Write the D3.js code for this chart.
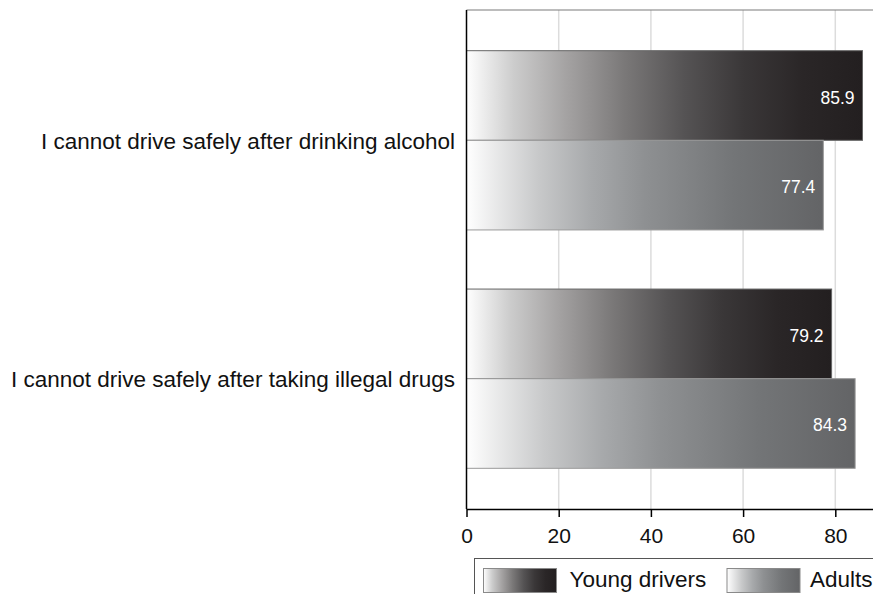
<!DOCTYPE html>
<html>
<head>
<meta charset="utf-8">
<script src="https://cdn.jsdelivr.net/npm/d3@7"></script>
<style>
  html, body { margin: 0; padding: 0; background: #fff; }
  svg { display: block; font-family: "Liberation Sans", Arial, sans-serif; }
</style>
</head>
<body>
<svg id="chart" width="873" height="594"></svg>
<script>
const categories = [
  "I cannot drive safely after drinking alcohol",
  "I cannot drive safely after taking illegal drugs"
];
const seriesNames = ["Young drivers", "Adults"];
const youngDrivers = [85.9, 79.2];
const adults = [77.4, 84.3];
const xTicks = [0, 20, 40, 60, 80];

const seriesValues = [youngDrivers, adults];
const data = categories.map((c, i) => ({
  category: c,
  values: seriesNames.map((s, j) => ({ series: s, value: seriesValues[j][i] }))
}));

const svg = d3.select("#chart");
const plotLeft = 466.5, plotTop = 10, plotBottom = 509;

const x = d3.scaleLinear().domain([0, 100]).range([plotLeft, plotLeft + 461]);
const y = d3.scaleBand().domain(categories).range([plotTop, plotBottom])
  .paddingInner(0.248).paddingOuter(0.1707);
const ySub = d3.scaleBand().domain(seriesNames).range([0, y.bandwidth()]);

// gradients
const defs = svg.append("defs");
const gradStops = {
  "Young drivers": [
    [0, "#ffffff"], [0.12, "#cccccc"], [0.25, "#a5a3a3"], [0.4, "#7a7878"],
    [0.55, "#555354"], [0.7, "#3a3738"], [0.85, "#2a2627"], [1, "#231f20"]
  ],
  "Adults": [
    [0, "#ffffff"], [0.2, "#c8c9ca"], [0.35, "#a7a9ab"], [0.5, "#8e9092"],
    [0.75, "#737577"], [1, "#636466"]
  ]
};
const gradId = { "Young drivers": "gYoung", "Adults": "gAdults" };
const strokeCol = { "Young drivers": "#666666", "Adults": "#999999" };
seriesNames.forEach(s => {
  const g = defs.append("linearGradient").attr("id", gradId[s])
    .attr("x1", "0").attr("x2", "1").attr("y1", "0").attr("y2", "0");
  gradStops[s].forEach(([o, c]) => g.append("stop").attr("offset", o).attr("stop-color", c));
});

// gridlines
svg.append("g").selectAll("line").data(xTicks.filter(t => t > 0)).join("line")
  .attr("x1", d => x(d)).attr("x2", d => x(d))
  .attr("y1", plotTop).attr("y2", plotBottom)
  .attr("stroke", "#dcdcdc").attr("stroke-width", 1.5);

// top border
svg.append("line").attr("x1", plotLeft).attr("x2", x(100)).attr("y1", plotTop).attr("y2", plotTop)
  .attr("stroke", "#7a7a7a").attr("stroke-width", 1.2);

// bars
const groups = svg.append("g").selectAll("g").data(data).join("g")
  .attr("transform", d => `translate(0,${y(d.category)})`);
groups.selectAll("rect").data(d => d.values).join("rect")
  .attr("x", x(0))
  .attr("y", d => ySub(d.series))
  .attr("width", d => x(d.value) - x(0))
  .attr("height", ySub.bandwidth())
  .attr("fill", d => `url(#${gradId[d.series]})`)
  .attr("stroke", d => strokeCol[d.series])
  .attr("stroke-width", 1);
groups.selectAll("text").data(d => d.values).join("text")
  .attr("x", d => x(d.value) - 8)
  .attr("y", d => ySub(d.series) + ySub.bandwidth() / 2 + 8)
  .attr("text-anchor", "end")
  .attr("fill", "#ffffff")
  .attr("font-size", 17.5)
  .text(d => d.value.toFixed(1));

// category labels
svg.append("g").selectAll("text").data(categories).join("text")
  .attr("x", 455)
  .attr("y", d => y(d) + y.bandwidth() / 2 + 8.5)
  .attr("text-anchor", "end")
  .attr("font-size", 22.5)
  .attr("fill", "#111")
  .text(d => d);

// left axis line
svg.append("line").attr("x1", plotLeft).attr("x2", plotLeft).attr("y1", plotTop).attr("y2", plotBottom)
  .attr("stroke", "#000").attr("stroke-width", 1.5);

// bottom axis
const xAxis = d3.axisBottom(x).tickValues(xTicks).tickSize(8).tickPadding(11).tickSizeOuter(0);
const ax = svg.append("g").attr("transform", `translate(0,${plotBottom})`).call(xAxis);
ax.select(".domain").attr("stroke", "#000").attr("stroke-width", 1.5);
ax.selectAll(".tick line").attr("stroke", "#000").attr("stroke-width", 1.5);
ax.selectAll(".tick text").attr("font-size", 21).attr("fill", "#111")
  .attr("font-family", "Liberation Sans, Arial, sans-serif");

// legend
const leg = svg.append("g");
leg.append("rect").attr("x", 474.5).attr("y", 558.5).attr("width", 460).attr("height", 60)
  .attr("fill", "#fff").attr("stroke", "#555").attr("stroke-width", 1);
const legX = { "Young drivers": 483.5, "Adults": 727 };
const legTextGap = { "Young drivers": 86, "Adults": 83 };
seriesNames.forEach(s => {
  leg.append("rect").attr("x", legX[s]).attr("y", 568.5).attr("width", 73).attr("height", 24)
    .attr("fill", `url(#${gradId[s]})`).attr("stroke", "#8a8a8a").attr("stroke-width", 1);
  leg.append("text").attr("x", legX[s] + legTextGap[s]).attr("y", 587)
    .attr("font-size", 22.5).attr("fill", "#111").text(s);
});
</script>
</body>
</html>
